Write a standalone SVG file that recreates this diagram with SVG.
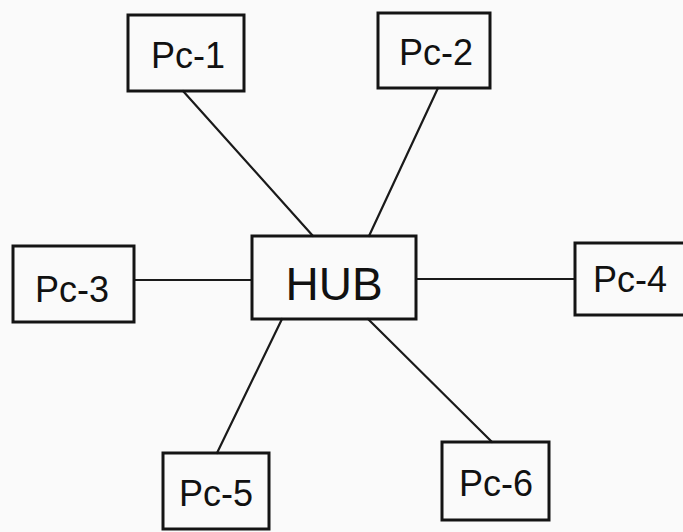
<svg xmlns="http://www.w3.org/2000/svg" width="683" height="532" viewBox="0 0 683 532">
  <style>
    .box { fill: none; stroke: #141414; stroke-width: 3; }
    .link { stroke: #1a1a1a; stroke-width: 2.2; fill: none; stroke-linecap: round; }
    .lbl { font-family: "Liberation Sans", Arial, sans-serif; font-size: 36px; fill: #111; text-anchor: middle; }
    .hub { font-size: 46px; }
  </style>
  <rect x="0" y="0" width="683" height="532" fill="#fafafa"/>

  <!-- connectors from hub to each PC -->
  <g id="connectors">
    <line class="link" x1="183" y1="91" x2="313" y2="236"/>
    <line class="link" x1="438" y1="88" x2="369" y2="236"/>
    <line class="link" x1="134" y1="280" x2="252" y2="280"/>
    <line class="link" x1="416" y1="279" x2="575" y2="279"/>
    <line class="link" x1="282" y1="319" x2="217" y2="453"/>
    <line class="link" x1="368" y1="319" x2="492" y2="442"/>
  </g>

  <g id="hub">
    <rect class="box" x="252" y="236" width="164" height="83"/>
    <text class="lbl hub" x="334" y="300">HUB</text>
  </g>

  <g id="pc1">
    <rect class="box" x="128" y="15" width="116" height="76"/>
    <text class="lbl" x="188" y="68">Pc-1</text>
  </g>

  <g id="pc2">
    <rect class="box" x="378" y="13" width="112" height="75"/>
    <text class="lbl" x="436" y="65">Pc-2</text>
  </g>

  <g id="pc3">
    <rect class="box" x="13" y="246" width="121" height="76"/>
    <text class="lbl" x="72" y="302">Pc-3</text>
  </g>

  <g id="pc4">
    <rect class="box" x="575" y="243" width="112" height="72"/>
    <text class="lbl" x="630" y="292">Pc-4</text>
  </g>

  <g id="pc5">
    <rect class="box" x="163" y="453" width="106" height="76"/>
    <text class="lbl" x="216" y="506">Pc-5</text>
  </g>

  <g id="pc6">
    <rect class="box" x="442" y="442" width="107" height="78"/>
    <text class="lbl" x="496" y="496">Pc-6</text>
  </g>
</svg>
